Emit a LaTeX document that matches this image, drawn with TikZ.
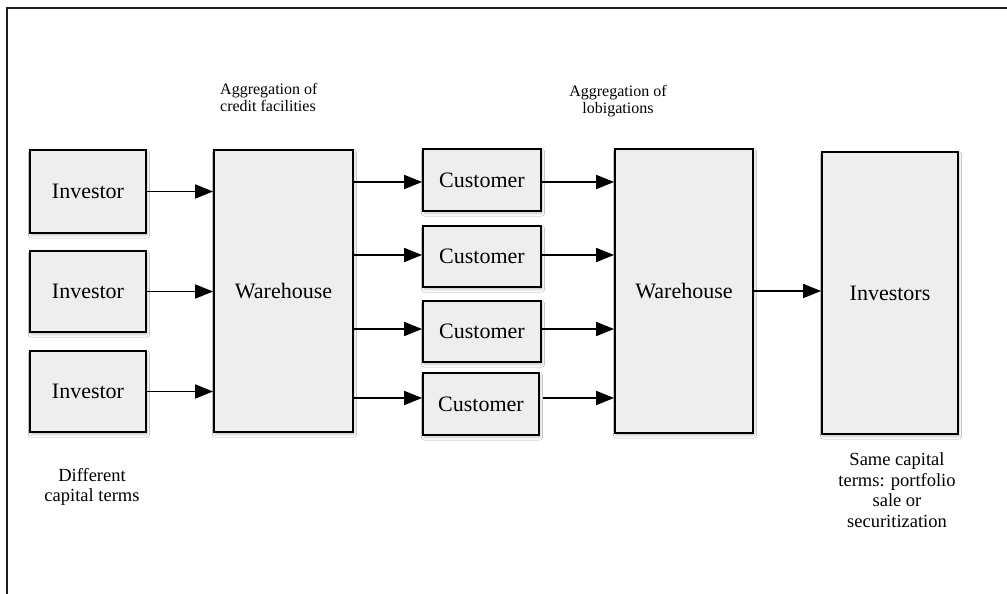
\documentclass[tikz,border=0pt]{standalone}
\usepackage{fontspec}
\setmainfont{Liberation Serif}
\usetikzlibrary{arrows.meta,shadows.blur}
\definecolor{boxfill}{HTML}{EEEEEE}
\definecolor{framegray}{HTML}{1E1E1E}
\tikzset{
  flowbox/.style={draw=black, line width=1.8pt, fill=boxfill,
    font=\fontsize{22}{24}\selectfont, inner sep=0pt,
    blur shadow={shadow xshift=1pt, shadow yshift=-2.5pt, shadow opacity=22, shadow blur steps=6, shadow blur radius=2.5pt}},
  flowarrow/.style={line width=1.7pt, -{Triangle[length=18pt,width=14pt]}},
  toplabel/.style={font=\fontsize{16}{17}\selectfont, inner sep=0pt},
  bottomlabel/.style={font=\fontsize{18.5}{20.5}\selectfont, inner sep=0pt, align=center}
}
\newcommand{\boxat}[6]{% name, x0, y0, x1, y1, text
  \node[flowbox, minimum width={(#4-#2)*1pt}, minimum height={(#5-#3)*1pt}]
    (#1) at ({(#2+#4)/2},{(#3+#5)/2}) {#6};}
\begin{document}
\begin{tikzpicture}[x=1pt,y=-1pt]
\useasboundingbox (0,0) rectangle (1007,594);
\fill[white] (0,0) rectangle (1007,594);
% outer frame
\draw[framegray, line width=2pt] (7,620) -- (7,8) -- (1030,8);

% investors and first warehouse
\boxat{I1}{30}{150}{146}{233}{Investor}
\boxat{I2}{30}{251}{146}{332}{Investor}
\boxat{I3}{30}{351}{146}{432}{Investor}
\boxat{W1}{214}{150}{353}{432}{Warehouse}

% customers
\boxat{C1}{423}{149}{541}{211}{Customer}
\boxat{C2}{423}{226}{541}{287}{Customer}
\boxat{C3}{423}{301}{541}{362}{Customer}
\boxat{C4}{423}{373}{539}{435}{Customer}

% second warehouse and final investors
\boxat{W2}{615}{149}{753}{433}{Warehouse}
\boxat{IV}{822}{152}{958}{434}{Investors}

% connectors
\draw[flowarrow] (I1.east) -- (I1.east -| W1.west);
\draw[flowarrow] (I2.east) -- (I2.east -| W1.west);
\draw[flowarrow] (I3.east) -- (I3.east -| W1.west);

\draw[flowarrow] ([yshift=-2pt]C1.west -| W1.east) -- ([yshift=-2pt]C1.west);
\draw[flowarrow] ([yshift=1.5pt]C2.west -| W1.east) -- ([yshift=1.5pt]C2.west);
\draw[flowarrow] ([yshift=2.5pt]C3.west -| W1.east) -- ([yshift=2.5pt]C3.west);
\draw[flowarrow] ([yshift=6pt]C4.west -| W1.east) -- ([yshift=6pt]C4.west);

\draw[flowarrow] ([yshift=-2pt]C1.east) -- ([yshift=-2pt]C1.east -| W2.west);
\draw[flowarrow] ([yshift=1.5pt]C2.east) -- ([yshift=1.5pt]C2.east -| W2.west);
\draw[flowarrow] ([yshift=2.5pt]C3.east) -- ([yshift=2.5pt]C3.east -| W2.west);
\draw[flowarrow] ([yshift=6pt,xshift=3pt]C4.east) -- ([yshift=6pt]C4.east -| W2.west);

\draw[flowarrow] (W2.east) -- (W2.east -| IV.west);

% annotations
\node[toplabel, align=left, anchor=west] (L1) at (220,97) {Aggregation of\\credit facilities};
\node[toplabel, align=center] (L2) at (618,101) {Aggregation of\\lobigations};
\node[bottomlabel] (L3) at (92,487) {Different\\capital terms};
\node[bottomlabel] (L4) at (897,490) {Same capital\\terms: portfolio\\sale or\\securitization};
\end{tikzpicture}
\end{document}
